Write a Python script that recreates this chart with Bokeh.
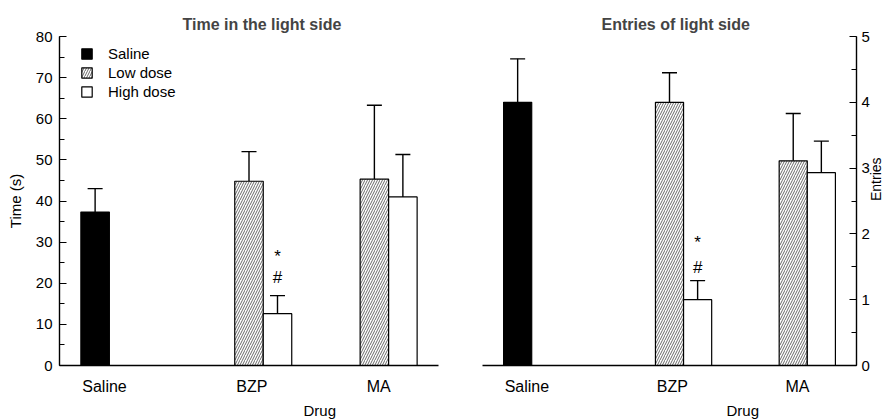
import math
from bokeh.plotting import figure
from bokeh.models import (Range1d, FixedTicker, Whisker, TeeHead, ColumnDataSource,
                          Legend, LegendItem, Title)
from bokeh.layouts import row
from bokeh.embed import file_html
from bokeh.resources import INLINE
from bokeh.core.properties import value

# ---------------- data ----------------
drugs = ["Saline", "BZP", "MA"]
dose_drugs = ["BZP", "MA"]

# Time in the light side (s)
time_saline = [37.3]
time_saline_err = [5.7]
time_low = [44.8, 45.3]
time_low_err = [7.2, 18.0]
time_high = [12.6, 41.0]
time_high_err = [4.4, 10.3]

# Entries of light side
entries_saline = [4.0]
entries_saline_err = [0.66]
entries_low = [4.0, 3.11]
entries_low_err = [0.45, 0.72]
entries_high = [1.0, 2.93]
entries_high_err = [0.29, 0.48]

sig_marks = ["*", "#"]
time_sig_y = [26.5, 21.4]
entries_sig_y = [1.87, 1.49]

time_ticks = [0, 10, 20, 30, 40, 50, 60, 70, 80]
entries_ticks = [0, 1, 2, 3, 4, 5]

# ---------------- layout helpers ----------------
FONT = "Liberation Sans"
saline_x = [1.25]
dose_x = [7.15, 11.55]
label_x = [1.58, 6.75, 11.2]
BAR_W = 1.0
X_END = 13.3


def make_panel(title, title_offset, saline, saline_err, low, low_err, high, high_err,
               sig_y, ticks, minor_step, y_end, side, width, borders, legend=False):
    p = figure(width=width, height=420, output_backend="svg", toolbar_location=None,
               x_range=Range1d(0, X_END), y_range=Range1d(0, y_end),
               y_axis_location=side, min_border_left=borders[0],
               min_border_right=borders[1], min_border_top=borders[2],
               min_border_bottom=borders[3])
    p.outline_line_color = None
    p.grid.grid_line_color = None
    p.background_fill_color = "white"
    p.border_fill_color = "white"

    low_x = [x - BAR_W / 2 for x in dose_x]
    high_x = [x + BAR_W / 2 for x in dose_x]

    s_src = ColumnDataSource(dict(x=saline_x, top=saline,
                                  upper=[a + b for a, b in zip(saline, saline_err)]))
    l_src = ColumnDataSource(dict(x=low_x, top=low,
                                  upper=[a + b for a, b in zip(low, low_err)]))
    h_src = ColumnDataSource(dict(x=high_x, top=high,
                                  upper=[a + b for a, b in zip(high, high_err)]))

    for src in (s_src, l_src, h_src):
        p.add_layout(Whisker(source=src, base="x", lower="top", upper="upper",
                             dimension="height", line_width=1.4, line_color="black",
                             lower_head=None,
                             upper_head=TeeHead(size=15, line_width=1.4, line_color="black")))

    r_s = p.vbar(x="x", top="top", width=BAR_W, source=s_src, fill_color="black",
                 line_color="black", line_width=1.2)
    r_l = p.vbar(x="x", top="top", width=BAR_W, source=l_src, fill_color="white",
                 line_color="black", line_width=1.2, hatch_pattern="/",
                 hatch_color="#444444", hatch_scale=5, hatch_weight=0.8)
    r_h = p.vbar(x="x", top="top", width=BAR_W, source=h_src, fill_color="white",
                 line_color="black", line_width=1.2)

    p.text(x=[high_x[0]] * len(sig_marks), y=sig_y, text=sig_marks,
           text_align="center", text_baseline="middle", text_font=value(FONT),
           text_font_size="17px", text_color="black")

    # title
    p.title.text = title
    p.title.align = "left"
    p.title.offset = title_offset
    p.title.text_font = FONT
    p.title.text_font_size = "16px"
    p.title.text_font_style = "bold"
    p.title.standoff = 7

    # x axis
    xa = p.xaxis[0]
    xa.ticker = FixedTicker(ticks=label_x)
    xa.major_label_overrides = {lx: d for lx, d in zip(label_x, drugs)}
    xa.major_tick_line_color = None
    xa.minor_tick_line_color = None
    xa.axis_line_width = 1.4
    xa.axis_line_color = "black"
    xa.major_label_text_font = FONT
    xa.major_label_text_font_size = "16px"
    xa.major_label_text_color = "black"
    xa.major_label_standoff = 6

    p.add_layout(Title(text="Drug", align="left", offset=244, text_font=FONT,
                       text_font_size="15px", text_font_style="normal",
                       text_color="black", standoff=4), "below")

    # y axis
    ya = p.yaxis[0]
    minors = []
    t = 0.0
    while t <= y_end + 1e-9:
        minors.append(round(t, 3))
        t += minor_step
    ya.ticker = FixedTicker(ticks=ticks, minor_ticks=minors)
    ya.major_tick_in = 7
    ya.major_tick_out = 0
    ya.minor_tick_in = 5
    ya.minor_tick_out = 0
    ya.major_tick_line_width = 1.2
    ya.minor_tick_line_width = 1.0
    ya.axis_line_width = 1.4
    ya.axis_line_color = "black"
    ya.major_tick_line_color = "black"
    ya.minor_tick_line_color = "black"
    ya.major_label_text_font = FONT
    ya.major_label_text_font_size = "15px"
    ya.major_label_text_color = "black"
    ya.major_label_standoff = 7
    ya.axis_label_text_font = FONT
    ya.axis_label_text_font_size = "15px"
    ya.axis_label_text_font_style = "normal"
    ya.axis_label_text_color = "black"

    if legend:
        lg = Legend(items=[LegendItem(label="Saline", renderers=[r_s]),
                           LegendItem(label="Low dose", renderers=[r_l]),
                           LegendItem(label="High dose", renderers=[r_h])],
                    location=(21, 265))
        lg.padding = 0
        lg.margin = 0
        lg.spacing = 2
        lg.glyph_width = 13
        lg.glyph_height = 13
        lg.label_height = 13
        lg.label_standoff = 15
        lg.label_text_font = FONT
        lg.label_text_font_size = "15px"
        lg.label_text_color = "black"
        lg.border_line_color = None
        lg.background_fill_alpha = 0
        p.add_layout(lg, "center")
    return p


left = make_panel("Time in the light side", 123, time_saline, time_saline_err,
                  time_low, time_low_err, time_high, time_high_err, time_sig_y,
                  time_ticks, 5, 80, "left", 440, (59, 2, 36, 55), legend=True)
ya = left.yaxis[0]
ya.axis_label = "Time (s)"
ya.axis_label_standoff = 9

right = make_panel("Entries of light side", 119, entries_saline, entries_saline_err,
                   entries_low, entries_low_err, entries_high, entries_high_err,
                   entries_sig_y, entries_ticks, 0.5, 5, "right", 454, (42, 36, 35, 55))
rya = right.yaxis[0]
rya.major_label_standoff = 5
rya.axis_label = "Entries"
rya.axis_label_orientation = math.pi / 2
rya.axis_label_standoff = 3
rya.axis_label_text_font_size = "14px"

layout = row(left, right)
open("out.html", "w").write(file_html(layout, INLINE))
